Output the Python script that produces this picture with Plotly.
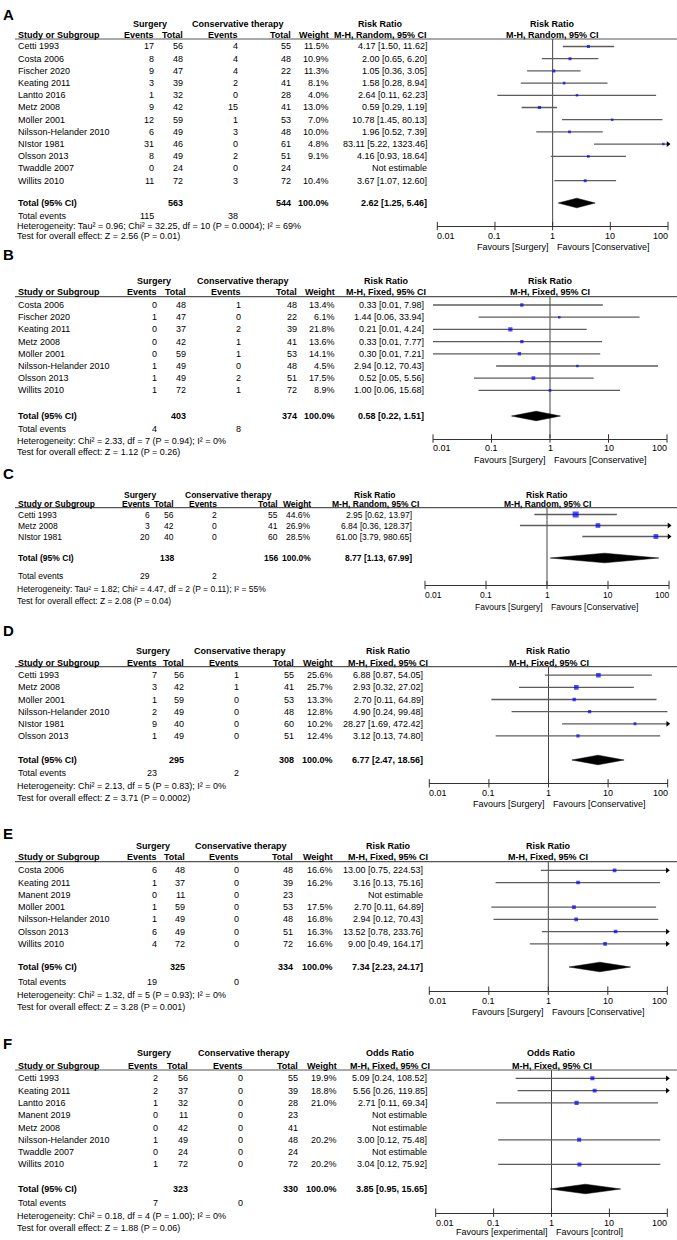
import math
import plotly.graph_objects as go

# ---------------- data ----------------
A_study = ["Cetti 1993", "Costa 2006", "Fischer 2020", "Keating 2011", "Lantto 2016", "Metz 2008",
           "Möller 2001", "Nilsson-Helander 2010", "NIstor 1981", "Olsson 2013", "Twaddle 2007", "Willits 2010"]
A_surg_ev = [17, 8, 9, 3, 1, 9, 12, 6, 31, 8, 0, 11]
A_surg_tot = [56, 48, 47, 39, 32, 42, 59, 49, 46, 49, 24, 72]
A_con_ev = [4, 4, 4, 2, 0, 15, 1, 3, 0, 2, 0, 3]
A_con_tot = [55, 48, 22, 41, 28, 41, 53, 48, 61, 51, 24, 72]
A_weight = [11.5, 10.9, 11.3, 8.1, 4.0, 13.0, 7.0, 10.0, 4.8, 9.1, None, 10.4]
A_est = [4.17, 2.00, 1.05, 1.58, 2.64, 0.59, 10.78, 1.96, 83.11, 4.16, None, 3.67]
A_lo = [1.50, 0.65, 0.36, 0.28, 0.11, 0.29, 1.45, 0.52, 5.22, 0.93, None, 1.07]
A_hi = [11.62, 6.20, 3.05, 8.94, 62.23, 1.19, 80.13, 7.39, 1323.46, 18.64, None, 12.60]
A_pool = [2.62, 1.25, 5.46]
A_het = "Heterogeneity: Tau² = 0.96; Chi² = 32.25, df = 10 (P = 0.0004); I² = 69%"
A_test = "Test for overall effect: Z = 2.56 (P = 0.01)"

B_study = ["Costa 2006", "Fischer 2020", "Keating 2011", "Metz 2008", "Möller 2001",
           "Nilsson-Helander 2010", "Olsson 2013", "Willits 2010"]
B_surg_ev = [0, 1, 0, 0, 0, 1, 1, 1]
B_surg_tot = [48, 47, 37, 42, 59, 49, 49, 72]
B_con_ev = [1, 0, 2, 1, 1, 0, 2, 1]
B_con_tot = [48, 22, 39, 41, 53, 48, 51, 72]
B_weight = [13.4, 6.1, 21.8, 13.6, 14.1, 4.5, 17.5, 8.9]
B_est = [0.33, 1.44, 0.21, 0.33, 0.30, 2.94, 0.52, 1.00]
B_lo = [0.01, 0.06, 0.01, 0.01, 0.01, 0.12, 0.05, 0.06]
B_hi = [7.98, 33.94, 4.24, 7.77, 7.21, 70.43, 5.56, 15.68]
B_pool = [0.58, 0.22, 1.51]
B_het = "Heterogeneity: Chi² = 2.33, df = 7 (P = 0.94); I² = 0%"
B_test = "Test for overall effect: Z = 1.12 (P = 0.26)"

C_study = ["Cetti 1993", "Metz 2008", "NIstor 1981"]
C_surg_ev = [6, 3, 20]
C_surg_tot = [56, 42, 40]
C_con_ev = [2, 0, 0]
C_con_tot = [55, 41, 60]
C_weight = [44.6, 26.9, 28.5]
C_est = [2.95, 6.84, 61.00]
C_lo = [0.62, 0.36, 3.79]
C_hi = [13.97, 128.37, 980.65]
C_pool = [8.77, 1.13, 67.99]
C_het = "Heterogeneity: Tau² = 1.82; Chi² = 4.47, df = 2 (P = 0.11); I² = 55%"
C_test = "Test for overall effect: Z = 2.08 (P = 0.04)"

D_study = ["Cetti 1993", "Metz 2008", "Möller 2001", "Nilsson-Helander 2010", "NIstor 1981", "Olsson 2013"]
D_surg_ev = [7, 3, 1, 2, 9, 1]
D_surg_tot = [56, 42, 59, 49, 40, 49]
D_con_ev = [1, 1, 0, 0, 0, 0]
D_con_tot = [55, 41, 53, 48, 60, 51]
D_weight = [25.6, 25.7, 13.3, 12.8, 10.2, 12.4]
D_est = [6.88, 2.93, 2.70, 4.90, 28.27, 3.12]
D_lo = [0.87, 0.32, 0.11, 0.24, 1.69, 0.13]
D_hi = [54.05, 27.02, 64.89, 99.48, 472.42, 74.80]
D_pool = [6.77, 2.47, 18.56]
D_het = "Heterogeneity: Chi² = 2.13, df = 5 (P = 0.83); I² = 0%"
D_test = "Test for overall effect: Z = 3.71 (P = 0.0002)"

E_study = ["Costa 2006", "Keating 2011", "Manent 2019", "Möller 2001", "Nilsson-Helander 2010",
           "Olsson 2013", "Willits 2010"]
E_surg_ev = [6, 1, 0, 1, 1, 6, 4]
E_surg_tot = [48, 37, 11, 59, 49, 49, 72]
E_con_ev = [0, 0, 0, 0, 0, 0, 0]
E_con_tot = [48, 39, 23, 53, 48, 51, 72]
E_weight = [16.6, 16.2, None, 17.5, 16.8, 16.3, 16.6]
E_est = [13.00, 3.16, None, 2.70, 2.94, 13.52, 9.00]
E_lo = [0.75, 0.13, None, 0.11, 0.12, 0.78, 0.49]
E_hi = [224.53, 75.16, None, 64.89, 70.43, 233.76, 164.17]
E_pool = [7.34, 2.23, 24.17]
E_het = "Heterogeneity: Chi² = 1.32, df = 5 (P = 0.93); I² = 0%"
E_test = "Test for overall effect: Z = 3.28 (P = 0.001)"

F_study = ["Cetti 1993", "Keating 2011", "Lantto 2016", "Manent 2019", "Metz 2008",
           "Nilsson-Helander 2010", "Twaddle 2007", "Willits 2010"]
F_surg_ev = [2, 2, 1, 0, 0, 1, 0, 1]
F_surg_tot = [56, 37, 32, 11, 42, 49, 24, 72]
F_con_ev = [0, 0, 0, 0, 0, 0, 0, 0]
F_con_tot = [55, 39, 28, 23, 41, 48, 24, 72]
F_weight = [19.9, 18.8, 21.0, None, None, 20.2, None, 20.2]
F_est = [5.09, 5.56, 2.71, None, None, 3.00, None, 3.04]
F_lo = [0.24, 0.26, 0.11, None, None, 0.12, None, 0.12]
F_hi = [108.52, 119.85, 69.34, None, None, 75.48, None, 75.92]
F_pool = [3.85, 0.95, 15.65]
F_het = "Heterogeneity: Chi² = 0.18, df = 4 (P = 1.00); I² = 0%"
F_test = "Test for overall effect: Z = 1.88 (P = 0.06)"

tick_vals = [0.01, 0.1, 1, 10, 100]
tick_text = ["0.01", "0.1", "1", "10", "100"]

# ---------------- layout parameters (pixels) ----------------
W, H = 677, 1240
FONT = "Liberation Sans, Arial, sans-serif"


def colset(se, st, ce, ct, w, rr, surg, cth, rrh):
    return dict(name=18, se=se, st=st, ce=ce, ct=ct, w=w, rr=rr, surg=surg, cth=cth, rrh=rrh)


panels = [
    dict(letter="A", study=A_study, se=A_surg_ev, st=A_surg_tot, ce=A_con_ev, ct=A_con_tot, w=A_weight,
         est=A_est, lo=A_lo, hi=A_hi, pool=A_pool, het=A_het, test=A_test,
         measure="Risk Ratio", method="M-H, Random, 95% CI",
         fav=("Favours [Surgery]", "Favours [Conservative]"),
         L=dict(letter=15, h1=24, h2=35, line=39, row0=46.5, sp=12.2, total=203, te=215.5, het=226, test=236.5,
                axis=226, lab=236, fav=247, x0=437.3, x1=668, fs=9,
                cols=colset(154, 183.5, 238, 291, 329.3, 427, 150, 238.3, 381))),
    dict(letter="B", study=B_study, se=B_surg_ev, st=B_surg_tot, ce=B_con_ev, ct=B_con_tot, w=B_weight,
         est=B_est, lo=B_lo, hi=B_hi, pool=B_pool, het=B_het, test=B_test,
         measure="Risk Ratio", method="M-H, Fixed, 95% CI",
         fav=("Favours [Surgery]", "Favours [Conservative]"),
         L=dict(letter=254, h1=281, h2=292.3, line=296.7, row0=305, sp=12.2, total=416, te=429, het=440.5, test=452,
                axis=438.5, lab=448, fav=459.5, x0=433, x1=667, fs=9,
                cols=colset(157.3, 186, 240.7, 296.7, 335, 424, 154, 243, 386))),
    dict(letter="C", study=C_study, se=C_surg_ev, st=C_surg_tot, ce=C_con_ev, ct=C_con_tot, w=C_weight,
         est=C_est, lo=C_lo, hi=C_hi, pool=C_pool, het=C_het, test=C_test,
         measure="Risk Ratio", method="M-H, Random, 95% CI",
         fav=("Favours [Surgery]", "Favours [Conservative]"),
         L=dict(letter=473, h1=495, h2=504.3, line=507.7, row0=514.5, sp=11, total=558, te=576, het=589, test=601,
                axis=585, lab=594.5, fav=606.5, x0=425, x1=669, fs=8.5,
                cols=colset(150, 174, 217, 278, 311, 412, 140, 228, 375))),
    dict(letter="D", study=D_study, se=D_surg_ev, st=D_surg_tot, ce=D_con_ev, ct=D_con_tot, w=D_weight,
         est=D_est, lo=D_lo, hi=D_hi, pool=D_pool, het=D_het, test=D_test,
         measure="Risk Ratio", method="M-H, Fixed, 95% CI",
         fav=("Favours [Surgery]", "Favours [Conservative]"),
         L=dict(letter=630.3, h1=650.7, h2=662.5, line=666.7, row0=675.2, sp=12.15, total=760, te=773, het=786,
                test=798, axis=783.3, lab=793.3, fav=804.3, x0=429.3, x1=667.7, fs=9,
                cols=colset(156.7, 184.3, 239, 294.3, 332.7, 422.7, 152.5, 240.5, 388))),
    dict(letter="E", study=E_study, se=E_surg_ev, st=E_surg_tot, ce=E_con_ev, ct=E_con_tot, w=E_weight,
         est=E_est, lo=E_lo, hi=E_hi, pool=E_pool, het=E_het, test=E_test,
         measure="Risk Ratio", method="M-H, Fixed, 95% CI",
         fav=("Favours [Surgery]", "Favours [Conservative]"),
         L=dict(letter=833, h1=845.7, h2=857.3, line=861.7, row0=870.3, sp=12.25, total=967, te=982, het=994.5,
                test=1007, axis=990.7, lab=1001, fav=1011.7, x0=429.3, x1=667.3, fs=9,
                cols=colset(156.7, 185, 239, 293.3, 332.7, 422.7, 152.5, 241, 388))),
    dict(letter="F", study=F_study, se=F_surg_ev, st=F_surg_tot, ce=F_con_ev, ct=F_con_tot, w=F_weight,
         est=F_est, lo=F_lo, hi=F_hi, pool=F_pool, het=F_het, test=F_test,
         measure="Odds Ratio", method="M-H, Fixed, 95% CI",
         fav=("Favours [experimental]", "Favours [control]"),
         L=dict(letter=1043, h1=1053.3, h2=1065.7, line=1070, row0=1078.3, sp=12.3, total=1189, te=1203, het=1216,
                test=1228, axis=1212.7, lab=1222.7, fav=1232.3, x0=435.7, x1=667.3, fs=9,
                cols=colset(158.3, 188, 242.7, 297.7, 336.7, 427.3, 154, 243.7, 390))),
]

fig = go.Figure()
ann = []
shapes = []
layout_axes = {}


def T(x, y, text, anchor="left", bold=False, size=9, xref="paper", xshift=0):
    ann.append(dict(
        x=x if xref != "paper" else x / W, y=1 - y / H, xref=xref, yref="paper",
        text=f"<b>{text}</b>" if bold else text, showarrow=False, xanchor=anchor, yanchor="middle",
        borderpad=0, borderwidth=0, xshift=xshift,
        font=dict(size=size, family=FONT, color="black")))


for k, P in enumerate(panels, start=1):
    L = P["L"]
    c = L["cols"]
    fs = L["fs"]
    xa = "x" if k == 1 else f"x{k}"
    ya = "y" if k == 1 else f"y{k}"
    row0, sp = L["row0"], L["sp"]
    top = (L["line"] - row0) / sp
    bot = (L["axis"] - row0) / sp
    layout_axes["xaxis" if k == 1 else f"xaxis{k}"] = dict(
        type="log", range=[-2, 2], domain=[L["x0"] / W, L["x1"] / W], anchor=ya,
        showline=True, linecolor="#333333", linewidth=1, ticks="", showticklabels=False,
        showgrid=False, zeroline=False, fixedrange=True)
    layout_axes["yaxis" if k == 1 else f"yaxis{k}"] = dict(
        domain=[1 - L["axis"] / H, 1 - L["line"] / H], range=[bot, top], anchor=xa,
        visible=False, fixedrange=True)

    n = len(P["study"])
    common = dict(xaxis=xa, yaxis=ya, hoverinfo="skip", showlegend=False)

    # null line
    fig.add_trace(go.Scatter(x=[1, 1], y=[top, bot], mode="lines",
                             line=dict(color="#444444", width=1), **common))
    # confidence intervals
    cx, cy, ax_, ay_ = [], [], [], []
    for i in range(n):
        if P["est"][i] is None:
            continue
        cx += [P["lo"][i], P["hi"][i], None]
        cy += [i, i, None]
        if P["hi"][i] > 100:
            ax_.append(100)
            ay_.append(i)
    fig.add_trace(go.Scatter(x=cx, y=cy, mode="lines", line=dict(color="#5c5c5c", width=1.3), **common))
    if ax_:
        fig.add_trace(go.Scatter(x=ax_, y=ay_, mode="markers", cliponaxis=False,
                                 marker=dict(symbol="triangle-right", size=5, color="black"), **common))
    # squares
    sx, sy, ss = [], [], []
    for i in range(n):
        if P["est"][i] is None:
            continue
        sx.append(P["est"][i])
        sy.append(i)
        ss.append(max(2.5, 0.9 * math.sqrt(P["w"][i])))
    fig.add_trace(go.Scatter(x=sx, y=sy, mode="markers",
                             marker=dict(symbol="square", size=ss, color="#0000ff", line=dict(width=0)),
                             **common))
    # diamond
    t = (L["total"] - row0) / sp
    hh = 4.8 / sp
    pe, plo, phi = P["pool"]
    fig.add_trace(go.Scatter(x=[plo, pe, phi, pe, plo], y=[t, t - hh, t, t + hh, t], mode="lines",
                             fill="toself", fillcolor="black", line=dict(color="black", width=0.5), **common))
    # tick marks
    fig.add_trace(go.Scatter(x=tick_vals, y=[bot] * len(tick_vals), mode="markers", cliponaxis=False,
                             marker=dict(symbol="line-ns-open", size=6, color="#333333",
                                         line=dict(width=1, color="#333333")),
                             **common))
    for j, (tv, tt) in enumerate(zip(tick_vals, tick_text)):
        anchor = "left" if j == 0 else ("right" if j == len(tick_vals) - 1 else "center")
        T(math.log10(tv), L["lab"], tt, anchor=anchor, size=fs, xref=xa)
    T(0, L["fav"], P["fav"][0], anchor="right", size=fs, xref=xa, xshift=-4)
    T(0, L["fav"], P["fav"][1], anchor="left", size=fs, xref=xa, xshift=4)
    T(0, L["h1"], P["measure"], anchor="center", bold=True, size=fs, xref=xa)
    T(0, L["h2"], P["method"], anchor="center", bold=True, size=fs, xref=xa)

    # header underline
    shapes.append(dict(type="line", xref="paper", yref="paper", x0=15 / W, x1=1,
                       y0=1 - L["line"] / H, y1=1 - L["line"] / H, line=dict(color="#555555", width=1.2)))

    # panel letter
    T(2.5, L["letter"], P["letter"], bold=True, size=15)

    # table headers
    T(c["surg"], L["h1"], "Surgery", anchor="center", bold=True, size=fs)
    T(c["cth"], L["h1"], "Conservative therapy", anchor="center", bold=True, size=fs)
    T(c["rrh"], L["h1"], P["measure"], anchor="center", bold=True, size=fs)
    T(c["name"], L["h2"], "Study or Subgroup", bold=True, size=fs)
    T(c["se"], L["h2"], "Events", anchor="right", bold=True, size=fs)
    T(c["st"], L["h2"], "Total", anchor="right", bold=True, size=fs)
    T(c["ce"], L["h2"], "Events", anchor="right", bold=True, size=fs)
    T(c["ct"], L["h2"], "Total", anchor="right", bold=True, size=fs)
    T(c["w"], L["h2"], "Weight", anchor="right", bold=True, size=fs)
    T(c["rrh"], L["h2"], P["method"], anchor="center", bold=True, size=fs)

    # study rows
    for i in range(n):
        y = row0 + i * sp
        T(c["name"], y, P["study"][i], size=fs)
        T(c["se"], y, str(P["se"][i]), anchor="right", size=fs)
        T(c["st"], y, str(P["st"][i]), anchor="right", size=fs)
        T(c["ce"], y, str(P["ce"][i]), anchor="right", size=fs)
        T(c["ct"], y, str(P["ct"][i]), anchor="right", size=fs)
        if P["est"][i] is None:
            T(c["rr"], y, "Not estimable", anchor="right", size=fs)
        else:
            T(c["w"], y, f"{P['w'][i]:.1f}%", anchor="right", size=fs)
            T(c["rr"], y, f"{P['est'][i]:.2f} [{P['lo'][i]:.2f}, {P['hi'][i]:.2f}]", anchor="right", size=fs)

    # total rows
    T(c["name"], L["total"], "Total (95% CI)", bold=True, size=fs)
    T(c["st"], L["total"], str(sum(P["st"])), anchor="right", bold=True, size=fs)
    T(c["ct"], L["total"], str(sum(P["ct"])), anchor="right", bold=True, size=fs)
    T(c["w"], L["total"], "100.0%", anchor="right", bold=True, size=fs)
    T(c["rr"], L["total"], f"{pe:.2f} [{plo:.2f}, {phi:.2f}]", anchor="right", bold=True, size=fs)
    T(c["name"], L["te"], "Total events", size=fs)
    T(c["se"], L["te"], str(sum(P["se"])), anchor="right", size=fs)
    T(c["ce"], L["te"], str(sum(P["ce"])), anchor="right", size=fs)
    T(c["name"] - 1, L["het"], P["het"], size=fs)
    T(c["name"] - 1, L["test"], P["test"], size=fs)

fig.update_layout(
    width=W, height=H, margin=dict(l=0, r=0, t=0, b=0),
    paper_bgcolor="white", plot_bgcolor="rgba(0,0,0,0)",
    showlegend=False, annotations=ann, shapes=shapes, **layout_axes)

fig.write_html("out.html", config={"displayModeBar": False, "staticPlot": True},
               post_script="document.body.style.margin='0px';document.body.style.padding='0px';")
